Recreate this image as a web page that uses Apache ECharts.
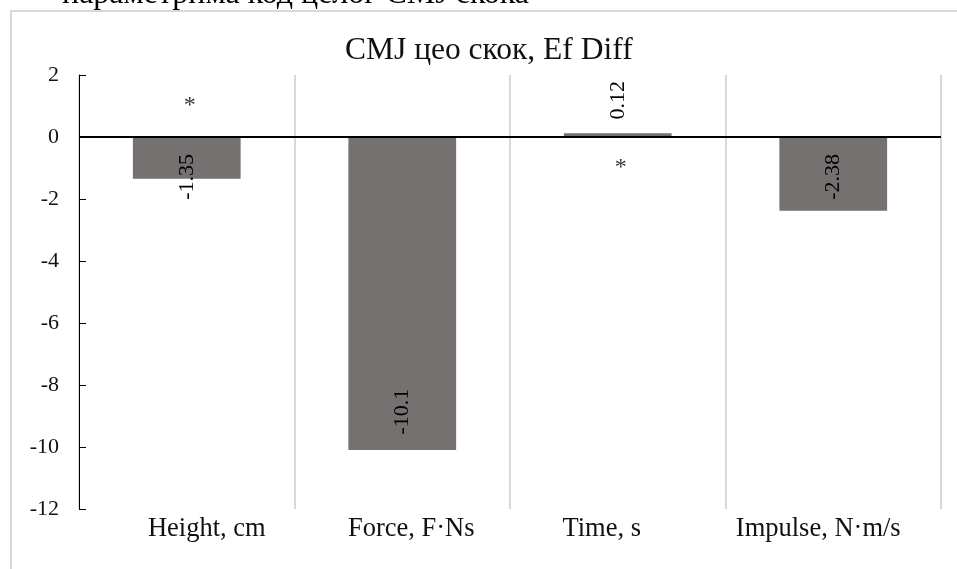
<!DOCTYPE html>
<html>
<head>
<meta charset="utf-8">
<script src="https://cdn.jsdelivr.net/npm/echarts@6/dist/echarts.min.js"></script>
<style>
  html, body { margin: 0; padding: 0; background: #fff; }
  #chart { width: 957px; height: 569px; }
</style>
</head>
<body>
<div id="chart"></div>
<script>
// chart values
const categories = ['Height, cm', 'Force, F·Ns', 'Time, s', 'Impulse, N·m/s'];
const efDiff = [-1.35, -10.1, 0.12, -2.38];
// significance asterisks (y position in axis units, null = none)
const starLevel = [1, null, -1, null];
const yMin = -12;
const yMax = 2;
const yStep = 2;

// layout only: label shift down the bar (px), category label shift right (px)
const labelShift = [19, 118, -35, 3];
const catShift = [20, 9, -16, -15];

const serif = '"Liberation Serif", "DejaVu Serif", serif';
const chart = echarts.init(document.getElementById('chart'), null, {renderer: 'canvas'});

chart.setOption({
  animation: false,
  backgroundColor: '#fff',
  graphic: [
    {
      type: 'text',
      left: 62,
      top: -21,
      z: -20,
      style: {
        text: 'параметрима код целог CMJ скока',
        font: '32px ' + serif,
        fill: '#000'
      }
    },
    {
      type: 'rect',
      shape: {x: 11, y: 11, width: 1000, height: 600},
      z: -10,
      style: {fill: '#fff', stroke: '#d9d9d9', lineWidth: 2}
    }
  ],
  title: {
    text: 'CMJ цео скок, Ef Diff',
    left: 345,
    top: 35,
    padding: 0,
    textStyle: {fontFamily: serif, fontSize: 31.5, fontWeight: 'normal', color: '#111'}
  },
  grid: {left: 79, right: 16, top: 75, bottom: 60, containLabel: false},
  xAxis: {
    type: 'category',
    data: categories.map((c, i) => ({
      value: c,
      textStyle: {
        padding: catShift[i] > 0 ? [0, 0, 0, 2 * catShift[i]] : [0, -2 * catShift[i], 0, 0]
      }
    })),
    position: 'bottom',
    axisLine: {show: false},
    axisTick: {show: false},
    axisLabel: {color: '#111', fontFamily: serif, fontSize: 26.5, margin: 7},
    splitLine: {show: true, lineStyle: {color: '#d9d9d9', width: 2}}
  },
  yAxis: {
    type: 'value',
    min: yMin,
    max: yMax,
    interval: yStep,
    axisLine: {show: true, lineStyle: {color: '#000', width: 1}},
    axisTick: {show: true, inside: true, length: 7, lineStyle: {color: '#000'}},
    axisLabel: {color: '#111', fontFamily: serif, fontSize: 22, margin: 20},
    splitLine: {show: false}
  },
  series: [
    {
      type: 'bar',
      barWidth: '50%',
      data: efDiff.map((v, i) => ({
        value: v,
        // offset is in the rotated text frame: -x means down the page
        label: {offset: [-labelShift[i], 0]}
      })),
      itemStyle: {color: '#767171'},
      label: {
        show: true,
        position: 'inside',
        rotate: 90,
        color: '#000',
        fontFamily: serif,
        fontSize: 22,
        formatter: p => String(p.value)
      },
      markLine: {
        silent: true,
        symbol: 'none',
        label: {show: false},
        lineStyle: {color: '#000', width: 2, type: 'solid'},
        data: [{yAxis: 0}]
      },
      z: 3
    },
    {
      type: 'scatter',
      symbolSize: 1,
      itemStyle: {color: 'rgba(0,0,0,0)'},
      data: starLevel,
      label: {
        show: true,
        position: 'inside',
        offset: [3, 0],
        formatter: '*',
        color: '#000',
        fontFamily: serif,
        fontSize: 24
      },
      z: 4
    }
  ]
});
</script>
</body>
</html>
